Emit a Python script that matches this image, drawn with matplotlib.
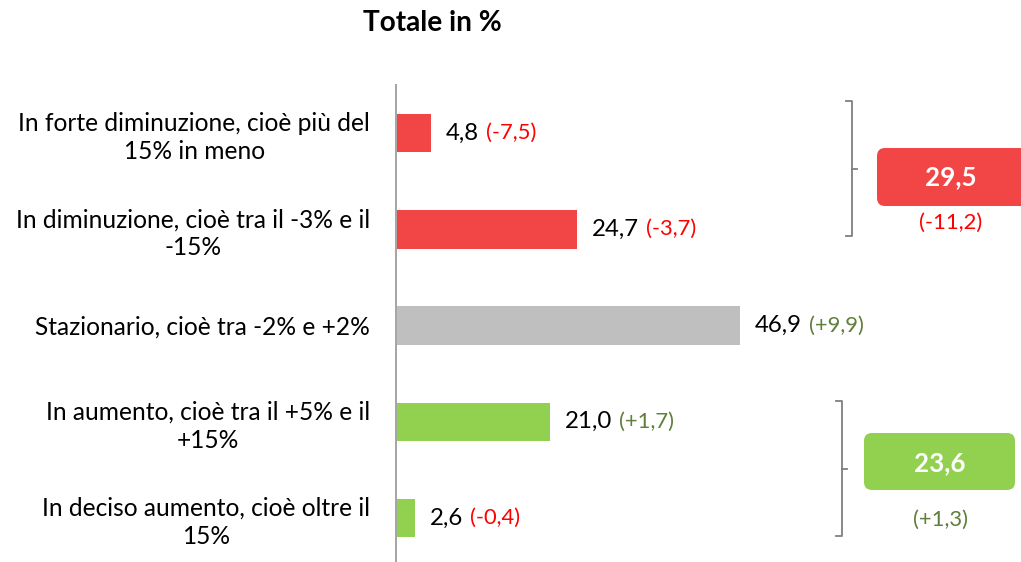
import matplotlib
matplotlib.use("Agg")
import matplotlib.pyplot as plt
from matplotlib.patches import FancyBboxPatch

plt.rcParams['font.family'] = ['Lato', 'DejaVu Sans']

title = "Totale in %"
categories = [
    "In forte diminuzione, cioè più del\n15% in meno",
    "In diminuzione, cioè tra il -3% e il\n-15%",
    "Stazionario, cioè tra -2% e +2%",
    "In aumento, cioè tra il +5% e il\n+15%",
    "In deciso aumento, cioè oltre il\n15%",
]
values = [4.8, 24.7, 46.9, 21.0, 2.6]
value_labels = ["4,8", "24,7", "46,9", "21,0", "2,6"]
deltas = ["(-7,5)", "(-3,7)", "(+9,9)", "(+1,7)", "(-0,4)"]
bar_colors = ["#F24646", "#F24646", "#BFBFBF", "#92D050", "#92D050"]

group_totals = ["29,5", "23,6"]
group_deltas = ["(-11,2)", "(+1,3)"]
group_colors = ["#F24646", "#92D050"]

RED = "#FF0000"
GREEN = "#5F7F3A"

DPI = 72
W, H = 1021, 562
fig = plt.figure(figsize=(W / DPI, H / DPI), dpi=DPI)
ax_left, ax_right = 396, 1021
ax_top, ax_bot = 85, 562
ax = fig.add_axes([ax_left / W, 1 - ax_bot / H, (ax_right - ax_left) / W, (ax_bot - ax_top) / H])

ypos = list(range(len(values)))
ax.barh(ypos, values, height=0.4, color=bar_colors, zorder=2)
ax.set_xlim(0, (ax_right - ax_left) / 7.33)
ax.set_ylim(4.457, -0.5)

for s in ["top", "right", "bottom"]:
    ax.spines[s].set_visible(False)
ax.spines["left"].set_color("#A6A6A6")
ax.spines["left"].set_linewidth(2)
ax.set_xticks([])
ax.set_yticks(ypos)
ax.set_yticklabels(categories, fontsize=24.5, multialignment="center", color="#000000",
                   linespacing=1.25)
ax.tick_params(axis="y", length=0, pad=26)

def dcolor(d):
    return GREEN if d.startswith("(+") else RED

for y, v, lab, d in zip(ypos, values, value_labels, deltas):
    t = ax.annotate(lab, xy=(v, y), xytext=(15, 0), textcoords="offset points",
                    va="center", ha="left", fontsize=24, color="#000000")
    ax.annotate(d, xy=(1, 0.5), xycoords=t, xytext=(7, 0), textcoords="offset points",
                va="center", ha="left", fontsize=22, color=dcolor(d))

fig.text(432 / W, 1 - 23 / H, title, ha="center", va="center", fontsize=28, fontweight="bold")

def px(x, y):
    return (x / W, 1 - y / H)

bracket_specs = [
    dict(x=852, top=101, bot=236, mid=169, box=(877, 148, 1030, 206), tx=951, ty=177, dy=223),
    dict(x=842, top=401, bot=536, mid=469, box=(864, 433, 1015, 490), tx=940, ty=463, dy=520),
]
for spec, tot, gd, gc in zip(bracket_specs, group_totals, group_deltas, group_colors):
    xs = [spec["x"] - 6, spec["x"], spec["x"], spec["x"] - 6]
    ys = [spec["top"], spec["top"], spec["bot"], spec["bot"]]
    fig.add_artist(plt.Line2D([a / W for a in xs], [1 - b / H for b in ys],
                              color="#7F7F7F", lw=1.8, transform=fig.transFigure))
    fig.add_artist(plt.Line2D([spec["x"] / W, (spec["x"] + 5) / W],
                              [1 - spec["mid"] / H] * 2, color="#7F7F7F", lw=1.8,
                              transform=fig.transFigure))
    x0, y0, x1, y1 = spec["box"]
    r = 8
    box = FancyBboxPatch((x0 + r, H - y1 + r), (x1 - x0) - 2 * r, (y1 - y0) - 2 * r,
                         boxstyle=f"round,pad={r}", transform=None,
                         facecolor=gc, edgecolor="none")
    fig.add_artist(box)
    fig.text(*px(spec["tx"], spec["ty"]), tot, ha="center", va="center",
             fontsize=26, fontweight="bold", color="white")
    fig.text(*px(spec["tx"], spec["dy"]), gd, ha="center", va="center",
             fontsize=22, color=dcolor(gd))

fig.savefig("out.png", dpi=DPI)
